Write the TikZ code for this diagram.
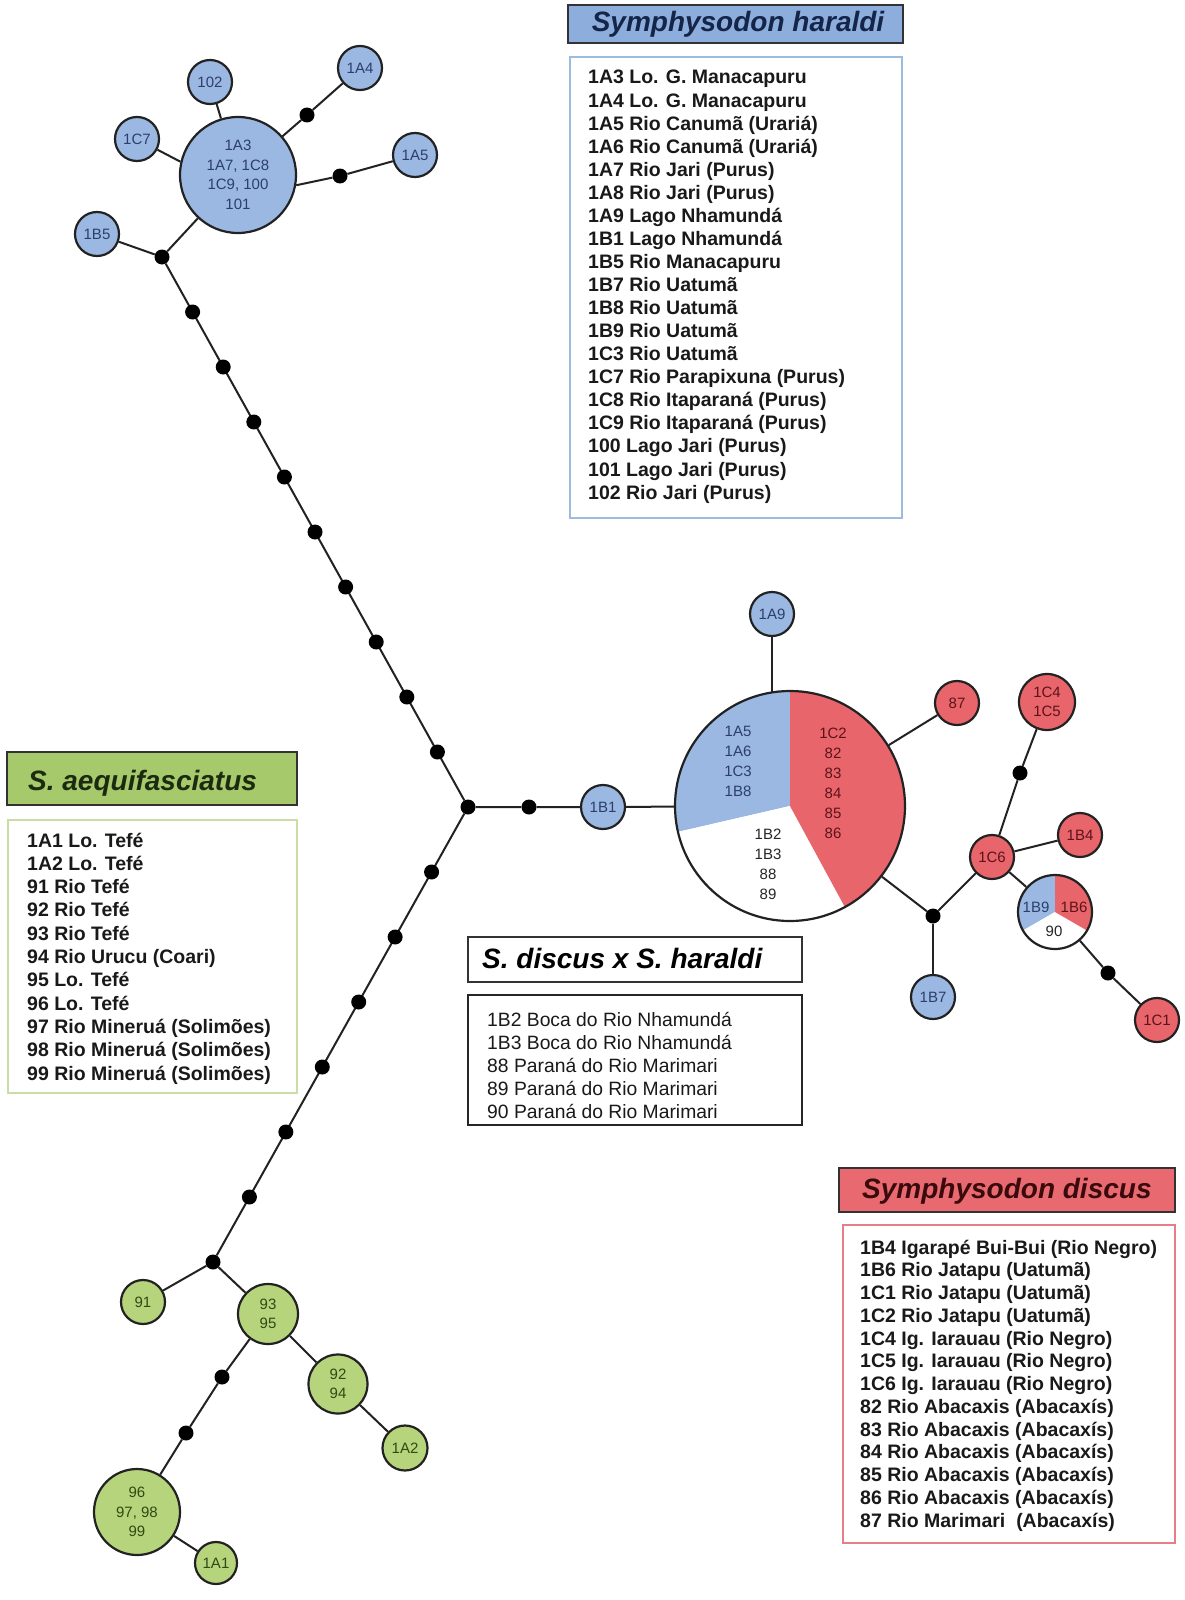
\documentclass[tikz,border=0pt]{standalone}
\usepackage{fontspec}
\setmainfont{Liberation Sans}
\usetikzlibrary{backgrounds}
\definecolor{hblue}{HTML}{9BB8E2}
\definecolor{hbluet}{HTML}{8DAEDC}
\definecolor{hblueline}{HTML}{9DBBE0}
\definecolor{dgreen}{HTML}{B5D47C}
\definecolor{dgreent}{HTML}{A6C96C}
\definecolor{greenline}{HTML}{C9DDA5}
\definecolor{dred}{HTML}{E8656B}
\definecolor{dredt}{HTML}{E8696F}
\definecolor{redline}{HTML}{E57E88}
\definecolor{edgec}{HTML}{222222}
\definecolor{bluetxt}{HTML}{2B3F6E}
\definecolor{redtxt}{HTML}{5C1418}
\definecolor{greentxt}{HTML}{2F4A12}
\definecolor{navy}{HTML}{15254A}
\definecolor{maroon}{HTML}{3A0A0C}
\definecolor{dkgreen}{HTML}{1C2A10}
\begin{document}
\begin{tikzpicture}[x=1pt,y=-1pt,
  hap/.style={circle, draw=edgec, line width=2.2pt, inner sep=0pt, minimum size=44pt,
    font=\fontsize{15}{19.5}\selectfont, align=center},
  hb/.style={hap, fill=hblue, text=bluetxt},
  hr/.style={hap, fill=dred, text=redtxt},
  hg/.style={hap, fill=dgreen, text=greentxt},
  mv/.style={circle, fill=black, inner sep=0pt, minimum size=15pt},
  lnk/.style={draw=edgec, line width=2pt},
  pietxt/.style={font=\fontsize{15}{20}\selectfont, align=center, inner sep=0pt},
  ttl/.style={font=\fontsize{28}{30}\selectfont\bfseries\itshape, inner sep=0pt},
  titlebox/.style={draw=black!80, line width=2.2pt},
  listtxt/.style={font=\fontsize{19.5}{23}\selectfont\bfseries, text=black!90, inner sep=0pt, anchor=base west},
  listtxtr/.style={font=\fontsize{19.3}{23}\selectfont, text=black!90, inner sep=0pt, anchor=base west}
]
\useasboundingbox (0,0) rectangle (1184,1600);

% ---------- upper blue cluster ----------
\node[hb, minimum size=116pt] (a3) at (238,175) {1A3\\1A7, 1C8\\1C9, 100\\101};
\node[hb] (n102) at (210,82) {102};
\node[hb] (c7) at (137,139) {1C7};
\node[hb] (a4) at (360,68) {1A4};
\node[hb] (a5) at (415,155) {1A5};
\node[hb] (b5) at (97,234) {1B5};
\node[mv] (m1) at (307,115) {};
\node[mv] (m2) at (340,176) {};
\node[mv] (m3) at (162,257) {};
\foreach \k in {1,...,9} \node[mv] (u\k) at ({162+30.6*\k},{257+55*\k}) {};

% ---------- central junction ----------
\node[mv] (J) at (468,807) {};
\node[mv] (m4) at (529,807) {};
\node[hb] (b1) at (603,807) {1B1};

% ---------- big pie ----------
\begin{scope}[shift={(790,806)}, x=1pt, y=1pt]
  \fill[hblue] (0,0) -- (90:115) arc[start angle=90, end angle=193, radius=115] -- cycle;
  \fill[white] (0,0) -- (193:115) arc[start angle=193, end angle=298.5, radius=115] -- cycle;
  \fill[dred] (0,0) -- (298.5:115) arc[start angle=298.5, end angle=450, radius=115] -- cycle;
\end{scope}
\node[circle, draw=edgec, line width=2.2pt, inner sep=0pt, minimum size=230pt] (pie) at (790,806) {};
\node[pietxt, text=bluetxt] (pl1) at (738,761) {1A5\\1A6\\1C3\\1B8};
\node[pietxt, text=redtxt] (pl2) at (833,783) {1C2\\82\\83\\84\\85\\86};
\node[pietxt, text=black!85] (pl3) at (768,864) {1B2\\1B3\\88\\89};

% ---------- right cluster ----------
\node[hb] (a9) at (772,614) {1A9};
\node[hr] (n87) at (957,703) {87};
\node[hr, minimum size=56pt] (c45) at (1047,702) {1C4\\1C5};
\node[mv] (m5) at (1020,773) {};
\node[hr] (c6) at (992,857) {1C6};
\node[hr] (b4) at (1080,835) {1B4};
\node[mv] (m6) at (933,916) {};
\node[hb] (b7) at (933,997) {1B7};
\begin{scope}[shift={(1055,912)}, x=1pt, y=1pt]
  \fill[hblue] (0,0) -- (90:37) arc[start angle=90, end angle=210, radius=37] -- cycle;
  \fill[white] (0,0) -- (210:37) arc[start angle=210, end angle=330, radius=37] -- cycle;
  \fill[dred] (0,0) -- (330:37) arc[start angle=330, end angle=450, radius=37] -- cycle;
\end{scope}
\node[circle, draw=edgec, line width=2.2pt, inner sep=0pt, minimum size=74pt] (spie) at (1055,912) {};
\node[pietxt, text=bluetxt] (sp1) at (1036,907) {1B9};
\node[pietxt, text=redtxt] (sp2) at (1074,907) {1B6};
\node[pietxt, text=black!85] (sp3) at (1054,931) {90};
\node[mv] (m7) at (1108,973) {};
\node[hr] (c1) at (1157,1020) {1C1};

% ---------- lower green cluster ----------
\foreach \k in {1,...,6} \node[mv] (w\k) at ({468-36.43*\k},{807+65*\k}) {};
\node[mv] (G) at (213,1262) {};
\node[hg] (n91) at (143,1302) {91};
\node[hg, minimum size=60pt] (n9395) at (268,1314) {93\\95};
\node[hg, minimum size=59pt] (n9294) at (338,1384) {92\\94};
\node[hg, minimum size=45pt] (a2) at (405,1448) {1A2};
\node[mv] (m8) at (222,1377) {};
\node[mv] (m9) at (186,1433) {};
\node[hg, minimum size=86pt] (n96) at (137,1512) {96\\97, 98\\99};
\node[hg, minimum size=42pt] (a1) at (216,1563) {1A1};

% ---------- edges ----------
\begin{pgfonlayer}{background}
  \fill[white] (0,0) rectangle (1184,1600);
  \draw[lnk] (a3) -- (n102);
  \draw[lnk] (a3.167) -- (c7);
  \draw[lnk] (a3) -- (m1) -- (a4);
  \draw[lnk] (a3.-10) -- (m2) -- (a5);
  \draw[lnk] (a3) -- (m3);
  \draw[lnk] (m3) -- (b5);
  \draw[lnk] (m3) -- (J);
  \draw[lnk] (J) -- (m4) -- (b1) -- (pie);
  \draw[lnk] (J) -- (G);
  \draw[lnk] (a9) -- (a9 |- pie.center);
  \draw[lnk] (pie) -- (n87);
  \draw[lnk] (pie) -- (m6);
  \draw[lnk] (m6) -- (b7);
  \draw[lnk] (m6) -- (c6);
  \draw[lnk] (c6) -- (m5) -- (c45);
  \draw[lnk] (c6) -- (b4);
  \draw[lnk] (c6) -- (spie);
  \draw[lnk] (spie) -- (m7) -- (c1);
  \draw[lnk] (G) -- (n91);
  \draw[lnk] (G) -- (n9395);
  \draw[lnk] (n9395) -- (n9294) -- (a2);
  \draw[lnk] (n9395) -- (m8) -- (m9) -- (n96);
  \draw[lnk] (n96) -- (a1);
\end{pgfonlayer}

% ---------- legend: S. haraldi ----------
\draw[titlebox, fill=hbluet] (568,5) rectangle (903,43);
\node[ttl, text=navy, anchor=base] (tH) at (738,32) {Symphysodon haraldi};
\draw[draw=hblueline, line width=2pt] (570,57) rectangle (902,518);
\foreach \t [count=\i] in {1A3 Lo. G. Manacapuru, 1A4 Lo. G. Manacapuru,
  1A5 Rio Canumã (Urariá), 1A6 Rio Canumã (Urariá), 1A7 Rio Jari (Purus),
  1A8 Rio Jari (Purus), 1A9 Lago Nhamundá, 1B1 Lago Nhamundá,
  1B5 Rio Manacapuru, 1B7 Rio Uatumã, 1B8 Rio Uatumã, 1B9 Rio Uatumã,
  1C3 Rio Uatumã, 1C7 Rio Parapixuna (Purus), 1C8 Rio Itaparaná (Purus),
  1C9 Rio Itaparaná (Purus), 100 Lago Jari (Purus), 101 Lago Jari (Purus),
  102 Rio Jari (Purus)}
  \node[listtxt] (hl\i) at (588,{84+23.06*(\i-1)}) {\t};

% ---------- legend: S. aequifasciatus ----------
\draw[titlebox, fill=dgreent] (7,752) rectangle (297,805);
\node[ttl, text=dkgreen, anchor=base west] (tA) at (28,790) {S. aequifasciatus};
\draw[draw=greenline, line width=2pt] (8,820) rectangle (297,1093);
\foreach \t [count=\i] in {1A1 Lo. Tefé, 1A2 Lo. Tefé, 91 Rio Tefé, 92 Rio Tefé,
  93 Rio Tefé, 94 Rio Urucu (Coari), 95 Lo. Tefé, 96 Lo. Tefé,
  97 Rio Mineruá (Solimões), 98 Rio Mineruá (Solimões), 99 Rio Mineruá (Solimões)}
  \node[listtxt] (al\i) at (27,{847+23.3*(\i-1)}) {\t};

% ---------- legend: hybrid ----------
\draw[titlebox, fill=white] (468,937) rectangle (802,982);
\node[ttl, text=black, anchor=base west] (tX) at (482,968) {S. discus x S. haraldi};
\draw[draw=black!85, line width=2pt] (468,995) rectangle (802,1125);
\foreach \t [count=\i] in {1B2 Boca do Rio Nhamundá, 1B3 Boca do Rio Nhamundá,
  88 Paraná do Rio Marimari, 89 Paraná do Rio Marimari, 90 Paraná do Rio Marimari}
  \node[listtxtr] (xl\i) at (487,{1026+23.2*(\i-1)}) {\t};

% ---------- legend: S. discus ----------
\draw[titlebox, fill=dredt] (839,1168) rectangle (1175,1212);
\node[ttl, text=maroon, anchor=base west] (tD) at (862,1198) {Symphysodon discus};
\draw[draw=redline, line width=2pt] (843,1225) rectangle (1175,1543);
\foreach \t [count=\i] in {1B4 Igarapé Bui-Bui (Rio Negro), 1B6 Rio Jatapu (Uatumã),
  1C1 Rio Jatapu (Uatumã), 1C2 Rio Jatapu (Uatumã), 1C4 Ig. Iarauau (Rio Negro),
  1C5 Ig. Iarauau (Rio Negro), 1C6 Ig. Iarauau (Rio Negro),
  82 Rio Abacaxis (Abacaxís), 83 Rio Abacaxis (Abacaxís), 84 Rio Abacaxis (Abacaxís),
  85 Rio Abacaxis (Abacaxís), 86 Rio Abacaxis (Abacaxís), 87 Rio Marimari\ \ (Abacaxís)}
  \node[listtxt] (dl\i) at (860,{1254+22.75*(\i-1)}) {\t};
\end{tikzpicture}
\end{document}
